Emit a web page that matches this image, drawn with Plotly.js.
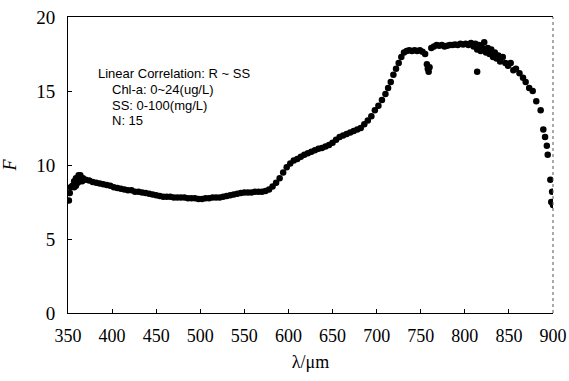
<!DOCTYPE html>
<html>
<head>
<meta charset="utf-8">
<script src="https://cdn.plot.ly/plotly-3.0.1.min.js"></script>
<style>html,body{margin:0;padding:0;background:#fff;}#chart{width:569px;height:381px;}</style>
</head>
<body>
<div id="chart"></div>
<script>
// Wavelength (x) and F (y)
const wavelength = [
  351,352,353,355,357,359,361,363,366,
  357,359,362,364,367,370,
  374,378,382,386,390,394,398,402,406,410,414,418,422,426,430,434,438,442,446,450,
  454,458,462,466,470,474,478,482,486,490,494,498,502,506,510,514,518,522,526,530,
  534,538,542,546,550,554,558,562,566,570,574,578,582,586,590,594,598,602,606,610,
  614,618,622,626,630,634,638,642,646,650,654,658,662,666,670,674,678,682,686,690,
  694,698,702,706,710,713,716,719,722,725,728,731,734,737,740,743,746,749,752,755,
  757,758,759,760,
  762,765,768,771,774,777,780,783,786,789,792,795,798,801,804,807,810,812,814,816,
  818,820,822,824,826,828,830,832,834,836,838,840,843,846,849,852,855,858,862,866,
  869,873,877,881,886,889,891,893,894,897,899,898,900,
  814
];
const fValue = [
  7.6,8.1,8.5,8.6,8.5,8.6,8.8,8.9,8.9,
  8.9,9.1,9.3,9.3,9.1,9.0,
  8.95,8.85,8.8,8.75,8.7,8.65,8.6,8.5,8.45,8.4,8.35,8.3,8.3,8.2,8.2,8.15,8.1,8.05,8.0,7.95,
  7.9,7.85,7.85,7.85,7.8,7.8,7.8,7.8,7.75,7.75,7.75,7.7,7.7,7.75,7.75,7.8,7.8,7.8,7.85,7.9,
  7.95,8.0,8.05,8.1,8.15,8.15,8.15,8.2,8.2,8.2,8.25,8.35,8.55,8.8,9.1,9.5,9.85,10.1,10.3,10.4,
  10.55,10.7,10.8,10.9,11.0,11.1,11.15,11.25,11.35,11.5,11.7,11.9,12.0,12.1,12.2,12.3,12.4,12.5,12.75,13.0,
  13.3,13.7,14.0,14.4,14.8,15.2,15.6,16.1,16.5,16.9,17.3,17.6,17.7,17.75,17.7,17.75,17.7,17.75,17.65,17.5,
  16.8,16.5,16.3,16.6,
  17.9,18.0,18.1,18.05,18.1,18.0,18.05,18.1,18.1,18.15,18.1,18.2,18.15,18.2,18.1,18.25,18.0,18.2,17.8,18.1,
  17.7,17.9,18.3,17.6,17.9,17.5,17.8,17.3,17.6,17.2,17.4,17.0,17.3,16.9,16.7,16.9,16.4,16.5,16.2,15.9,
  15.6,15.2,15.0,14.3,13.7,12.4,11.9,11.3,10.7,9.0,8.2,7.5,7.3,
  16.3
];
const xTicks = [350,400,450,500,550,600,650,700,750,800,850,900];
const yTicks = [0,5,10,15,20];
const noteLines = ["Linear Correlation: R ~ SS", "Chl-a: 0~24(ug/L)", "SS: 0-100(mg/L)", "N: 15"];

const serif = "Liberation Serif, Times New Roman, serif";
const sans = "Liberation Sans, Arial, sans-serif";

const trace = {
  x: wavelength, y: fValue, type: "scatter", mode: "markers",
  marker: {color: "#000", size: 6.5, line: {width: 0}},
  hoverinfo: "skip"
};

const notePos = [[382, 16.2], [397.5, 15.12], [397.5, 14.03], [397.5, 13.0]];
const annotations = noteLines.map((t, i) => ({
  x: notePos[i][0], y: notePos[i][1], xref: "x", yref: "y",
  xanchor: "left", yanchor: "middle", showarrow: false,
  text: t, font: {family: sans, size: 13, color: "#000"}
}));

const layout = {
  width: 569, height: 381,
  margin: {l: 68, r: 16, t: 17, b: 68},
  paper_bgcolor: "#fff", plot_bgcolor: "#fff",
  showlegend: false,
  xaxis: {
    range: [350, 900], tickvals: xTicks, ticktext: xTicks.map(String),
    ticks: "inside", ticklen: 4, tickcolor: "#000", tickwidth: 1,
    showline: true, linecolor: "#000", linewidth: 1, mirror: true,
    showgrid: false, zeroline: false,
    tickfont: {family: serif, size: 18, color: "#000"},
    ticklabelstandoff: 6,
    title: {text: "λ/μm", font: {family: serif, size: 18, color: "#000"}, standoff: 10}
  },
  yaxis: {
    range: [0, 20], tickvals: yTicks, ticktext: yTicks.map(String),
    ticks: "inside", ticklen: 4, tickcolor: "#000", tickwidth: 1,
    showline: true, linecolor: "#000", linewidth: 1, mirror: false,
    showgrid: false, zeroline: false,
    tickfont: {family: serif, size: 19, color: "#000"},
    ticklabelstandoff: 8,
    title: {text: "<i>F</i>", font: {family: serif, size: 18, color: "#000"}, standoff: 18}
  },
  shapes: [{
    type: "line", xref: "paper", yref: "paper", x0: 1, x1: 1, y0: 0, y1: 1,
    line: {color: "#555", width: 1, dash: "dot"}
  }],
  annotations: annotations
};

Plotly.newPlot("chart", [trace], layout, {staticPlot: true, displayModeBar: false});
</script>
</body>
</html>
